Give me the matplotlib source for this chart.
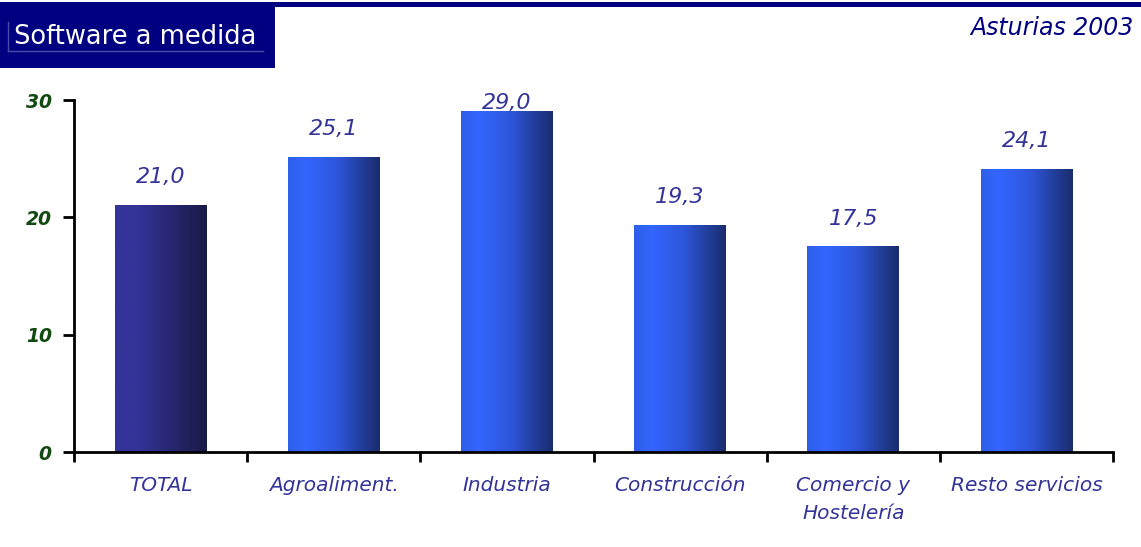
import numpy as np
import matplotlib
matplotlib.use("Agg")
import matplotlib.pyplot as plt
from matplotlib.colors import LinearSegmentedColormap
from matplotlib.patches import Rectangle

# datos
categorias = ["TOTAL", "Agroaliment.", "Industria", "Construcción",
              "Comercio y\nHostelería", "Resto servicios"]
valores = [21.0, 25.1, 29.0, 19.3, 17.5, 24.1]
etiquetas = ["21,0", "25,1", "29,0", "19,3", "17,5", "24,1"]
yticks = [0, 10, 20, 30]

W, H = 1141, 547
fig = plt.figure(figsize=(W / 100, H / 100), dpi=100)
fig.patch.set_facecolor("white")

# banda superior y caja del titulo
fig.add_artist(Rectangle((0, 1 - 7 / H), 1, 5 / H, transform=fig.transFigure,
                         color="#000080", lw=0))
fig.add_artist(Rectangle((0, 1 - 68 / H), 275 / W, 66 / H, transform=fig.transFigure,
                         color="#000080", lw=0))
fig.add_artist(plt.Line2D([8 / W, 8 / W], [1 - 51 / H, 1 - 22 / H],
                          transform=fig.transFigure, color="#4a4aa8", lw=1))
fig.add_artist(plt.Line2D([8 / W, 263 / W], [1 - 51 / H, 1 - 51 / H],
                          transform=fig.transFigure, color="#4a4aa8", lw=1))
fig.text(14 / W, 1 - 37 / H, "Software a medida", color="white",
         fontsize=18.5, va="center", ha="left")
fig.text(1134 / W, 1 - 28 / H, "Asturias 2003", color="#000080",
         fontsize=17, style="italic", va="center", ha="right")

ax = fig.add_axes([74 / W, 1 - 452 / H, (1113 - 74) / W, (452 - 100) / H])

cm_total = LinearSegmentedColormap.from_list(
    "t", [(0, "#333399"), (0.25, "#333399"), (1, "#1a1a45")])
cm_resto = LinearSegmentedColormap.from_list(
    "r", [(0, "#2e5fe8"), (0.2, "#3366ff"), (0.55, "#2d55d8"), (1, "#1a2c6c")])
grad = np.linspace(0, 1, 256).reshape(1, -1)

x = np.arange(len(valores)) + 0.5
ancho = 0.53
bars = ax.bar(x, valores, width=ancho, color="none", lw=0)
for i, b in enumerate(bars):
    x0, w, h = b.get_x(), b.get_width(), b.get_height()
    ax.imshow(grad, cmap=cm_total if i == 0 else cm_resto, aspect="auto",
              extent=[x0, x0 + w, 0, h], interpolation="bicubic", zorder=2)

for xi, v, t in zip(x, valores, etiquetas):
    ax.text(xi, min(v + 2.4, 29.75), t, ha="center", va="center",
            color="#333399", fontsize=16, style="italic", zorder=3)

ax.set_xlim(0, len(valores))
ax.set_ylim(0, 30)

for s in ["top", "right"]:
    ax.spines[s].set_visible(False)
for s in ["left", "bottom"]:
    ax.spines[s].set_linewidth(2)
    ax.spines[s].set_color("black")

ax.set_yticks(yticks)
ax.set_yticklabels([str(t) for t in yticks], color="#124a12", fontsize=13.5,
                   style="italic", fontweight="bold")
ax.tick_params(axis="y", direction="out", length=8, width=2, pad=8)

ax.set_xticks(np.arange(len(valores) + 1))
ax.set_xticklabels([])
ax.tick_params(axis="x", which="major", direction="out", length=7, width=2)
ax.set_xticks(x, minor=True)
ax.set_xticklabels(categorias, minor=True, color="#333399", fontsize=14.5,
                   style="italic", linespacing=1.6)
ax.tick_params(axis="x", which="minor", length=0, pad=17)

fig.savefig("out.png", dpi=100)
